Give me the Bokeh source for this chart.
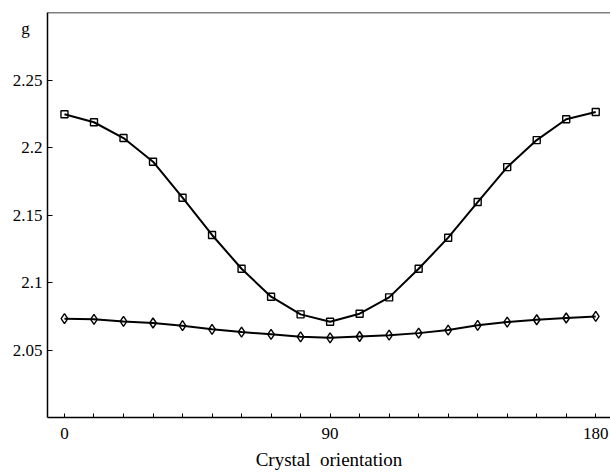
from bokeh.plotting import figure
from bokeh.models import Range1d, FixedTicker, Span
from bokeh.embed import file_html
from bokeh.resources import INLINE

angle = [0, 10, 20, 30, 40, 50, 60, 70, 80, 90, 100, 110, 120, 130, 140, 150, 160, 170, 180]
g_square = [2.2246, 2.2187, 2.2070, 2.1895, 2.1628, 2.1352, 2.1102, 2.0895, 2.0764, 2.0709,
            2.0769, 2.0890, 2.1102, 2.1332, 2.1596, 2.1855, 2.2055, 2.2209, 2.2263]
g_diamond = [2.0732, 2.0727, 2.0712, 2.0700, 2.0680, 2.0653, 2.0633, 2.0616, 2.0598, 2.0590,
             2.0600, 2.0610, 2.0625, 2.0648, 2.0683, 2.0707, 2.0724, 2.0737, 2.0749]
y_ticks = [2.05, 2.1, 2.15, 2.2, 2.25]
y_tick_labels = ["2.05", "2.1", "2.15", "2.2", "2.25"]
x_ticks = list(range(0, 181, 10))
x_tick_labels = {0: "0", 90: "90", 180: "180"}
y_title = "g"
x_title = "Crystal\u00a0\u00a0orientation"

FONT = "Liberation Serif"
G_POS = 2.2881  # vertical placement of the "g" axis title (layout only)

p = figure(width=610, height=472, output_backend="svg", toolbar_location=None,
           x_range=Range1d(-5.75, 185.0), y_range=Range1d(2.0, 2.3),
           min_border_left=47, min_border_right=0, min_border_top=12, min_border_bottom=55)
p.outline_line_color = None
p.xgrid.visible = False
p.ygrid.visible = False
p.background_fill_color = "white"
p.border_fill_color = "white"

p.line(angle, g_square, line_color="black", line_width=2)
p.scatter(angle, g_square, marker="square", size=7, line_color="black", line_width=1.4,
          fill_alpha=0)
p.line(angle, g_diamond, line_color="black", line_width=2)
p.scatter(angle, g_diamond, marker="diamond", size=10, line_color="black", line_width=1.4,
          fill_alpha=0)

p.add_layout(Span(location=2.3, dimension="width", line_color="black", line_width=1.5))

# y axis: labels as (invisible) major ticks, tick marks drawn as minor ticks
overrides = {t: l for t, l in zip(y_ticks, y_tick_labels)}
overrides[G_POS] = y_title + "\u00a0\u00a0\u00a0"
p.yaxis.ticker = FixedTicker(ticks=y_ticks + [G_POS], minor_ticks=y_ticks)
p.yaxis.major_label_overrides = overrides
p.yaxis.major_tick_in = 0
p.yaxis.major_tick_out = 0
p.yaxis.major_tick_line_color = None
p.yaxis.minor_tick_in = 5
p.yaxis.minor_tick_out = 0
p.yaxis.minor_tick_line_color = "black"
p.yaxis.minor_tick_line_width = 1
p.yaxis.axis_line_width = 1.5
p.yaxis.axis_line_color = "black"
p.yaxis.major_label_standoff = 5
p.yaxis.major_label_text_font = FONT
p.yaxis.major_label_text_font_size = "17px"
p.yaxis.major_label_text_font_style = "normal"
p.yaxis.major_label_text_color = "black"

# x axis
p.xaxis.ticker = FixedTicker(ticks=x_ticks)
p.xaxis.major_label_overrides = {t: x_tick_labels.get(t, "") for t in x_ticks}
p.xaxis.minor_tick_line_color = None
p.xaxis.major_tick_in = 4
p.xaxis.major_tick_out = 0
p.xaxis.axis_line_width = 1.5
p.xaxis.axis_line_color = "black"
p.xaxis.major_tick_line_color = "black"
p.xaxis.major_label_standoff = 10
p.xaxis.major_label_text_font = FONT
p.xaxis.major_label_text_font_size = "17px"
p.xaxis.major_label_text_font_style = "normal"
p.xaxis.major_label_text_color = "black"
p.xaxis.axis_label = x_title
p.xaxis.axis_label_text_font = FONT
p.xaxis.axis_label_text_font_size = "19px"
p.xaxis.axis_label_text_font_style = "normal"
p.xaxis.axis_label_text_color = "black"
p.xaxis.axis_label_standoff = 7

open("out.html", "w").write(file_html(p, INLINE))
